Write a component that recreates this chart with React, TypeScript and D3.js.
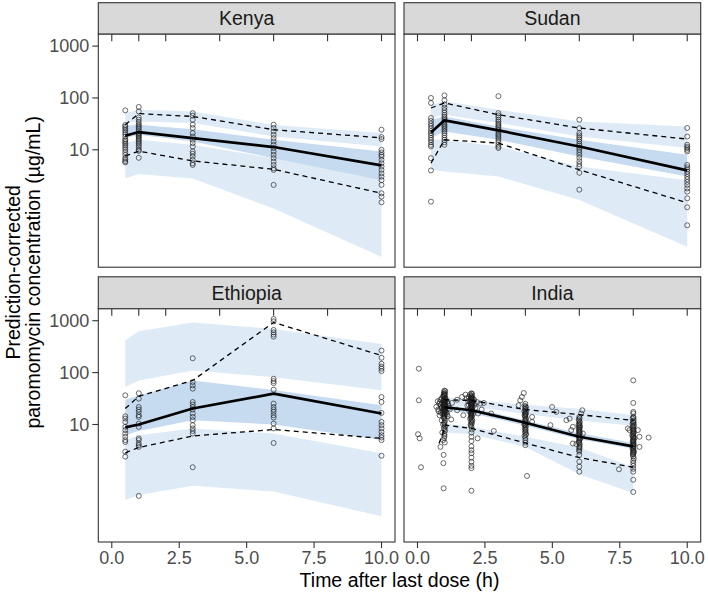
import React from "react";
import * as d3 from "d3";

// ---------- DATA ----------
const binTimes = [0.5, 1, 3, 6, 10];
const indiaTimes = [1, 2, 4, 6, 8];
const indiaLowerTimes = [0.8, 1.05, 2, 4, 6, 8];

const xTicks = [0, 2.5, 5, 7.5, 10];
const xTickLabels = ["0.0", "2.5", "5.0", "7.5", "10.0"];
const yTicks = [10, 100, 1000];
const yTickLabels = ["10", "100", "1000"];
const binEdges = [0, 1, 2, 4, 6, 8, 10];

// Kenya
const kenyaMedian = [18.7, 22, 16.8, 11.3, 5];
const kenyaUpper = [30.5, 49.8, 44, 24.4, 17];
const kenyaLower = [7.6, 9.4, 6.1, 4.2, 1.45];
const kenyaUpLo = [33, 35, 33, 18, 11.6];
const kenyaUpHi = [51, 59, 55, 30, 21];
const kenyaMedLo = [16.8, 19.5, 14.5, 6.9, 2.6];
const kenyaMedHi = [29, 30.5, 25, 15.6, 9.3];
const kenyaLowLo = [2.8, 3.4, 2.8, 0.74, 0.086];
const kenyaLowHi = [13.5, 15.6, 12.5, 6.9, 4.5];
const kenyaObs: [number, number[]][] = [
  [0.5, [57.6, 30, 28, 26, 24, 22, 20, 18, 16, 15, 14, 13, 12, 11, 10, 9, 8, 7, 6.5, 6, 5.7]],
  [1, [67, 55, 42, 38, 34, 31, 29, 27, 25, 23, 21, 20, 19, 18, 17, 16, 15, 14, 13, 12, 11, 10, 9.5, 7]],
  [3, [51, 45.5, 38, 30.5, 26.3, 21, 18, 15.6, 13.5, 11.6, 9.3, 8.4, 7.4, 6.4, 5.5, 5.1]],
  [6, [30.5, 26.3, 22.6, 19.5, 16.8, 14.5, 12.5, 10.8, 9.3, 8.0, 6.9, 5.9, 5.1, 4.4, 4.1, 2.1]],
  [10, [24.4, 17.6, 16.1, 10, 8.9, 8.0, 7.4, 6.4, 5.5, 4.75, 4.1, 3.5, 3.05, 2.6, 2.1, 1.45, 1.25, 0.97]],
];

// Sudan
const sudanMedian = [21.6, 37, 23.7, 11.6, 4.0];
const sudanUpper = [64, 80, 47.5, 26.3, 16.1];
const sudanLower = [5.5, 15.6, 13.5, 4.1, 0.95];
const sudanUpLo = [41, 47.5, 33, 18, 10.8];
const sudanUpHi = [74, 86, 59, 35.3, 28];
const sudanMedLo = [16.8, 22.6, 15.6, 7.4, 3.05];
const sudanMedHi = [38, 44, 28, 15.6, 8.0];
const sudanLowLo = [4.1, 3.8, 3.05, 1.08, 0.135];
const sudanLowHi = [15.6, 15.6, 11.6, 4.75, 2.6];
const sudanObs: [number, number[]][] = [
  [0.5, [100, 80, 41, 36, 32, 29, 26, 23, 21, 19, 17, 15.5, 14, 12.5, 11.6, 6.9, 4.0, 1.0]],
  [1, [112, 90, 75, 65, 58, 52, 47, 43, 40, 37, 34, 31, 29, 27, 25, 23, 21, 19, 17, 15.5, 14, 12.5]],
  [3, [108, 51, 46, 42, 38, 35, 32, 30, 28, 26, 24, 22, 20, 18.5, 17, 15.5, 14, 12.5, 11.5, 10.8]],
  [6, [38, 26, 21, 19, 17.5, 16, 14.5, 13, 12, 11, 10, 9, 8, 7, 6, 5.3, 4.75, 3.6, 1.7]],
  [10, [26.3, 18, 12.5, 11.5, 10.8, 10, 9.3, 5.1, 4.6, 4.2, 3.8, 3.4, 3.0, 2.7, 2.4, 2.1, 1.8, 1.56, 1.16, 0.78, 0.35]],
];

// Ethiopia
const ethiopiaMedian = [8.8, 10, 20.3, 39.3, 16.3];
const ethiopiaUpper = [20.3, 34.9, 70.6, 927, 213];
const ethiopiaLower = [2.85, 3.6, 6.0, 8.0, 5.4];
const ethiopiaUpLo = [52.6, 70.6, 110, 81.8, 45.5];
const ethiopiaUpHi = [414, 623, 927, 694, 357];
const ethiopiaMedLo = [6.2, 7.5, 12.1, 10, 5.0];
const ethiopiaMedHi = [30, 36, 70.6, 46, 23.4];
const ethiopiaLowLo = [0.35, 0.44, 0.66, 0.51, 0.17];
const ethiopiaLowHi = [5.0, 6.2, 8.4, 6.7, 2.8];
const ethiopiaObs: [number, number[]][] = [
  [0.5, [36.5, 14.4, 13, 11.2, 9.0, 7.8, 6.7, 5.8, 5.0, 4.6, 3.0, 2.4]],
  [1, [40, 31.5, 21.7, 19.4, 17.5, 15.1, 14, 10.4, 9.0, 5.4, 5.0, 4.3, 4.0, 3.7, 0.42]],
  [3, [189, 65.6, 56.7, 49, 27.1, 24.2, 21.7, 19.4, 16.3, 14, 12.1, 9.7, 8.4, 7.5, 6.7, 1.5]],
  [6, [1079, 970, 664, 597, 540, 493, 76, 68.5, 62.8, 46.9, 25.3, 21.7, 19.4, 17.5, 15.1, 13.6, 10.4, 8.4, 4.4]],
  [10, [266, 193, 148, 131, 119, 107, 33.8, 27.1, 16.7, 11.2, 9.7, 8.4, 7.2, 6.2, 5.6, 5.0, 2.5]],
];

// India
const indiaMedian = [21.5, 18.8, 10.8, 5.8, 3.8];
const indiaUpper = [30, 29, 19.4, 15.5, 12];
const indiaLower = [4.3, 9.7, 8.4, 4.4, 2.3, 1.5];
const indiaUpLo = [24, 22, 16, 12, 9.5];
const indiaUpHi = [33, 30, 24, 20, 15];
const indiaMedLo = [19, 16.5, 9.5, 5.2, 3.4];
const indiaMedHi = [24, 21, 12, 6.8, 4.4];
const indiaLowLo = [7, 6.5, 3.7, 1.1, 0.48];
const indiaLowHi = [10.5, 9, 5.8, 3.6, 1.5];
const indiaObsPairs: [number, number][] = [
  [0.05, 119], [0.05, 29.2], [0.02, 6.5], [0.08, 5.4], [0.13, 1.5],
  [1.0, 45], [0.98, 42], [1.02, 40], [0.97, 38], [1.0, 36], [0.95, 34], [1.03, 33], [0.9, 32], [1.0, 31], [0.85, 30],
  [1.05, 29.5], [0.98, 29], [0.75, 28], [1.0, 27.5], [1.1, 27], [0.92, 26], [1.0, 25.5], [0.8, 25], [1.02, 24], [0.96, 23.5],
  [1.15, 23], [1.0, 22.5], [0.7, 22], [0.98, 21.5], [1.04, 21], [0.88, 20.5], [1.0, 20], [1.2, 19.5], [0.95, 19], [1.02, 18.5],
  [0.78, 18], [1.0, 17.5], [1.08, 17], [0.93, 16], [1.0, 15.5], [0.82, 15], [1.12, 14.5], [0.97, 14], [1.0, 13], [1.25, 12.5],
  [0.9, 12], [1.0, 11], [0.95, 10], [1.03, 9], [1.0, 8], [0.92, 7], [1.0, 6], [0.95, 5], [0.85, 3.7], [0.97, 2.6], [0.96, 1.8], [0.97, 0.59],
  [1.0, 26.5], [0.99, 24.5], [1.01, 22], [0.99, 20.5], [1.01, 19], [1.0, 18], [0.99, 16.5], [1.01, 14.8],
  [1.03, 44], [0.99, 39], [1.01, 37], [0.96, 35], [1.04, 31.5], [0.99, 30.5], [1.02, 28.5], [0.97, 27], [1.03, 25], [0.99, 23],
  [1.01, 21.2], [0.98, 19.8], [1.03, 18.2], [0.99, 17.2], [1.01, 15.8], [0.98, 13.5], [1.02, 12], [0.99, 10.5], [1.01, 9.5],
  [0.98, 8.5], [1.02, 7.5], [1.0, 6.5], [0.99, 5.5], [1.01, 4.5], [0.83, 27], [0.87, 24], [0.9, 21], [0.77, 19.5], [0.86, 17],
  [1.13, 25], [1.17, 21], [1.09, 15.5],
  [2.0, 40], [1.95, 38], [2.02, 36], [1.9, 34], [2.0, 33], [2.05, 32], [1.98, 31], [2.0, 30], [1.93, 29], [2.07, 28],
  [2.0, 27], [1.97, 26], [2.03, 25], [1.9, 24], [2.0, 23], [2.05, 22], [1.96, 21], [2.0, 20], [2.02, 19], [1.92, 18],
  [2.0, 17], [2.06, 16], [1.98, 15], [2.0, 14], [1.95, 13], [2.03, 12], [2.0, 11], [1.97, 10], [2.0, 9], [2.02, 8], [2.0, 7],
  [2.0, 5.8], [2.0, 4.8], [2.0, 3.8], [2.0, 3.2], [2.0, 2.8], [2.0, 2.3], [2.0, 1.9], [2.0, 1.6], [2.0, 1.44], [2.0, 0.53],
  [2.01, 26.5], [1.99, 24.5], [2.01, 22.5], [1.99, 20.5], [2.01, 18.5], [1.99, 17.5], [2.01, 16.5], [1.99, 15.5],
  [2.02, 39], [1.98, 35], [2.01, 33.5], [1.99, 31.5], [2.02, 29.5], [1.98, 27.5], [2.01, 25.5], [1.99, 23.5], [2.02, 21.5],
  [1.98, 19.5], [2.01, 18], [1.99, 16], [2.02, 14.5], [1.98, 13.5], [2.01, 12.5], [1.99, 11.5], [2.02, 10.5], [1.98, 9.5],
  [1.88, 28], [1.85, 23], [2.1, 30], [2.12, 24], [2.15, 21], [1.83, 32],
  [1.28, 26], [1.47, 30], [1.65, 34], [1.78, 37.6], [1.7, 15.1], [1.47, 18.8], [2.21, 27], [2.33, 25.3], [2.46, 26],
  [2.38, 19.4], [2.25, 16.3], [2.73, 16.3], [2.83, 7.5], [2.23, 5.4],
  [4.0, 25], [3.98, 23], [4.02, 21], [4.0, 19.5], [3.96, 18], [4.03, 17], [4.0, 16], [3.97, 15], [4.0, 14], [4.02, 13],
  [3.98, 12], [4.0, 11.5], [4.04, 11], [4.0, 10.5], [3.96, 10], [4.0, 9.5], [4.02, 9], [3.98, 8.5], [4.0, 8], [4.0, 7.3],
  [4.03, 6.6], [3.97, 6], [4.0, 5.5], [4.0, 5], [4.0, 4.5], [4.0, 4],
  [4.01, 22], [3.99, 20], [4.01, 18.5], [3.99, 16.5], [4.01, 15.5], [3.99, 14.5], [4.01, 12.5], [3.99, 9.8], [4.01, 7.8],
  [3.99, 7], [4.01, 6.3],
  [3.81, 29.2], [3.87, 33.8], [3.94, 40.4], [3.75, 23.4], [4.25, 14.0], [4.25, 11.2], [4.06, 1.02],
  [4.99, 21.7], [5.15, 17.5], [4.93, 9.7],
  [6.0, 14], [5.98, 12.5], [6.02, 11.2], [6.0, 10.5], [5.97, 10], [6.0, 9.5], [6.03, 9], [6.0, 8.5], [5.98, 8], [6.0, 7.5],
  [6.02, 7], [6.0, 6.6], [5.96, 6.2], [6.0, 5.8], [6.04, 5.4], [6.0, 5], [5.98, 4.7], [6.0, 4.4], [6.02, 4.1], [6.0, 3.8],
  [6.0, 3.4], [6.0, 3.0], [6.0, 2.6], [6.0, 1.92], [6.0, 1.54], [6.0, 1.23],
  [6.01, 13.2], [5.99, 11.8], [6.01, 9.8], [5.99, 8.8], [6.01, 7.8], [5.99, 7.2], [6.01, 6.4], [5.99, 5.6], [6.01, 5.2],
  [5.99, 4.5], [6.01, 3.6], [5.99, 3.2],
  [5.52, 12.1], [5.64, 13], [5.76, 9], [5.7, 7.8], [6.11, 18.8], [6.07, 16.3], [6.13, 6.7], [5.76, 4.3], [5.89, 4.2], [7.47, 1.37],
  [8.0, 70.7], [8.0, 26], [8.0, 17.5], [8.0, 16.3], [8.0, 14], [7.98, 13], [8.02, 12], [8.0, 11], [7.97, 10.3], [8.03, 9.6],
  [8.0, 9], [7.98, 8.4], [8.0, 7.8], [8.02, 7.2], [8.0, 6.7], [7.96, 6.2], [8.0, 5.8], [8.04, 5.4], [8.0, 5], [7.98, 4.7],
  [8.0, 4.4], [8.02, 4.1], [8.0, 3.8], [7.97, 3.5], [8.0, 3.2], [8.03, 3], [8.0, 2.8], [7.98, 2.6], [8.0, 2.4], [8.02, 2.2],
  [8.0, 2], [8.0, 1.8], [8.0, 1.6], [8.0, 1.4], [8.0, 1.23], [8.0, 0.86], [8.0, 0.5],
  [8.01, 13.5], [7.99, 11.5], [8.01, 10.6], [7.99, 9.3], [8.01, 8.1], [7.99, 7.5], [8.01, 6.9], [7.99, 6.5], [8.01, 6],
  [7.99, 5.6], [8.01, 5.2], [7.99, 4.9], [8.01, 4.6], [7.99, 4.2], [8.01, 3.9], [7.99, 3.6], [8.01, 3.4], [7.99, 3.1],
  [8.01, 2.9], [7.99, 2.7],
  [8.17, 7.8], [8.23, 5.8], [8.23, 3.7], [8.57, 5.6], [7.86, 7.8], [7.8, 8.4],
];

// ---------- LAYOUT ----------
const W = 708;
const H = 594;
const FONT = "'Liberation Sans', Arial, Helvetica, sans-serif";
const cols = [
  [98.3, 395],
  [404, 700.7],
];
const rows = [
  { stripTop: 2.7, top: 34.2, bottom: 267.2 },
  { stripTop: 276.8, top: 308.8, bottom: 542 },
];
const LIGHT = "#deebf7";
const DARK = "#c6dbef";
const INK = "#333333";

function flatten(obs: [number, number[]][]): [number, number][] {
  const out: [number, number][] = [];
  obs.forEach(([t, vals]) => vals.forEach((v) => out.push([t, v])));
  return out;
}

type Panel = {
  name: string;
  col: number;
  row: number;
  times: number[];
  lowerTimes: number[];
  median: number[];
  upper: number[];
  lower: number[];
  upLo: number[];
  upHi: number[];
  medLo: number[];
  medHi: number[];
  lowLo: number[];
  lowHi: number[];
  points: [number, number][];
};

const panels: Panel[] = [
  { name: "Kenya", col: 0, row: 0, times: binTimes, lowerTimes: binTimes, median: kenyaMedian, upper: kenyaUpper, lower: kenyaLower,
    upLo: kenyaUpLo, upHi: kenyaUpHi, medLo: kenyaMedLo, medHi: kenyaMedHi, lowLo: kenyaLowLo, lowHi: kenyaLowHi, points: flatten(kenyaObs) },
  { name: "Sudan", col: 1, row: 0, times: binTimes, lowerTimes: binTimes, median: sudanMedian, upper: sudanUpper, lower: sudanLower,
    upLo: sudanUpLo, upHi: sudanUpHi, medLo: sudanMedLo, medHi: sudanMedHi, lowLo: sudanLowLo, lowHi: sudanLowHi, points: flatten(sudanObs) },
  { name: "Ethiopia", col: 0, row: 1, times: binTimes, lowerTimes: binTimes, median: ethiopiaMedian, upper: ethiopiaUpper, lower: ethiopiaLower,
    upLo: ethiopiaUpLo, upHi: ethiopiaUpHi, medLo: ethiopiaMedLo, medHi: ethiopiaMedHi, lowLo: ethiopiaLowLo, lowHi: ethiopiaLowHi, points: flatten(ethiopiaObs) },
  { name: "India", col: 1, row: 1, times: indiaTimes, lowerTimes: indiaLowerTimes, median: indiaMedian, upper: indiaUpper, lower: indiaLower,
    upLo: indiaUpLo, upHi: indiaUpHi, medLo: indiaMedLo, medHi: indiaMedHi, lowLo: indiaLowLo, lowHi: indiaLowHi, points: indiaObsPairs },
];

function PanelView({ p }: { p: Panel }) {
  const [x0, x1] = cols[p.col];
  const r = rows[p.row];
  const x = d3.scaleLinear().domain([-0.5, 10.5]).range([x0, x1]);
  const y = d3.scaleLog().domain([0.0544, 1696]).range([r.bottom, r.top]);
  const area = (lo: number[], hi: number[]) =>
    d3
      .area<number>()
      .x((_, i) => x(p.times[i]))
      .y0((_, i) => y(lo[i]))
      .y1((_, i) => y(hi[i]))(p.times) || "";
  const line = (ts: number[], vals: number[]) =>
    d3
      .line<number>()
      .x((_, i) => x(ts[i]))
      .y((v) => y(v))(vals) || "";
  const clipId = `clip-${p.name}`;
  return (
    <g>
      <defs>
        <clipPath id={clipId}>
          <rect x={x0} y={r.top} width={x1 - x0} height={r.bottom - r.top} />
        </clipPath>
      </defs>
      {/* strip */}
      <rect x={x0} y={r.stripTop} width={x1 - x0} height={r.top - r.stripTop} fill="#d9d9d9" stroke={INK} strokeWidth={1.1} />
      <text x={(x0 + x1) / 2} y={(r.stripTop + r.top) / 2 + 7} textAnchor="middle" fontSize={19.5} fill="#1a1a1a" fontFamily={FONT}>
        {p.name}
      </text>
      <rect x={x0} y={r.top} width={x1 - x0} height={r.bottom - r.top} fill="white" />
      <g clipPath={`url(#${clipId})`}>
        <path d={area(p.upLo, p.upHi)} fill={LIGHT} />
        <path d={area(p.lowLo, p.lowHi)} fill={LIGHT} />
        <path d={area(p.medLo, p.medHi)} fill={DARK} />
        {p.points.map(([t, v], i) => (
          <circle key={i} cx={x(t)} cy={y(v)} r={2.5} fill="none" stroke="#1a1a1a" strokeOpacity={0.85} strokeWidth={0.75} />
        ))}
        <path d={line(p.times, p.upper)} fill="none" stroke="black" strokeWidth={1.3} strokeDasharray="5,4" />
        <path d={line(p.lowerTimes, p.lower)} fill="none" stroke="black" strokeWidth={1.3} strokeDasharray="5,4" />
        <path d={line(p.times, p.median)} fill="none" stroke="black" strokeWidth={2.7} strokeLinejoin="round" />
      </g>
      {/* bin ticks along top */}
      {binEdges.map((t) => (
        <line key={t} x1={x(t)} x2={x(t)} y1={r.top} y2={r.top + 7} stroke={INK} strokeWidth={1.1} />
      ))}
      <rect x={x0} y={r.top} width={x1 - x0} height={r.bottom - r.top} fill="none" stroke={INK} strokeWidth={1.1} />
      {p.col === 0 &&
        yTicks.map((v, i) => (
          <g key={v}>
            <line x1={x0 - 6} x2={x0} y1={y(v)} y2={y(v)} stroke={INK} strokeWidth={1.1} />
            <text x={x0 - 9} y={y(v)} dy="0.35em" textAnchor="end" fontSize={18} fill="#4d4d4d" fontFamily={FONT}>
              {yTickLabels[i]}
            </text>
          </g>
        ))}
      {p.row === 1 &&
        xTicks.map((t, i) => (
          <g key={t}>
            <line x1={x(t)} x2={x(t)} y1={r.bottom} y2={r.bottom + 6} stroke={INK} strokeWidth={1.1} />
            <text x={x(t)} y={r.bottom + 21.5} textAnchor="middle" fontSize={18} fill="#4d4d4d" fontFamily={FONT}>
              {xTickLabels[i]}
            </text>
          </g>
        ))}
    </g>
  );
}

export default function App() {
  const cy = (rows[0].stripTop + rows[1].bottom) / 2;
  return (
    <svg width={W} height={H} style={{ position: "absolute", left: 0, top: 0, background: "white" }} fontFamily={FONT}>
      <rect width={W} height={H} fill="white" />
      {panels.map((p) => (
        <PanelView key={p.name} p={p} />
      ))}
      <text x={(cols[0][0] + cols[1][1]) / 2} y={587} textAnchor="middle" fontSize={19.5} fill="black">
        Time after last dose (h)
      </text>
      <text transform={`translate(19.5,${cy}) rotate(-90)`} textAnchor="middle" fontSize={19.5} fill="black">
        Prediction-corrected
      </text>
      <text transform={`translate(39.5,${cy}) rotate(-90)`} textAnchor="middle" fontSize={19.5} fill="black">
        paromomycin concentration (µg/mL)
      </text>
    </svg>
  );
}
